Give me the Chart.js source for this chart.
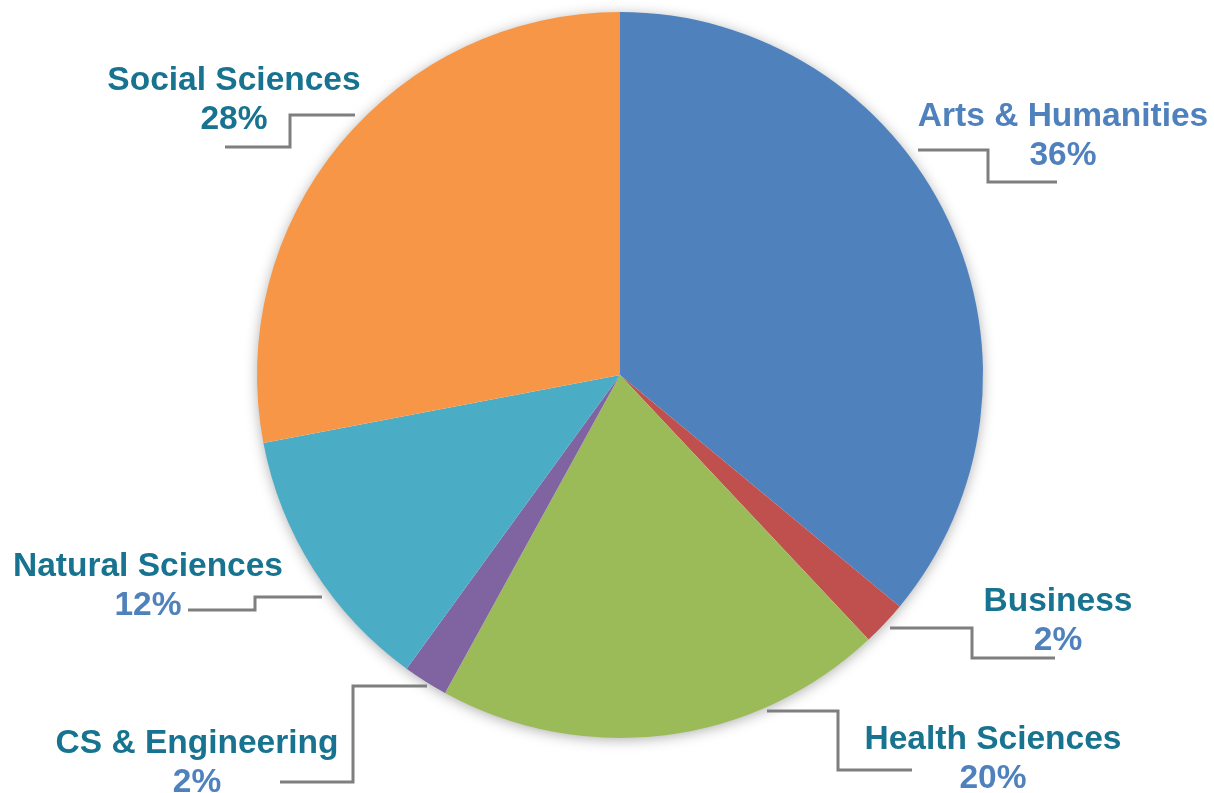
<!DOCTYPE html>
<html>
<head>
<meta charset="utf-8">
<script src="https://cdn.jsdelivr.net/npm/chart.js@4"></script>
<style>
  html, body { margin: 0; padding: 0; background: #ffffff; }
  #wrap { width: 1214px; height: 793px; position: relative; }
</style>
</head>
<body>
<div id="wrap"><canvas id="c" width="1214" height="793"></canvas></div>
<script>
// ---- data ----
const categories = ["Arts & Humanities", "Business", "Health Sciences", "CS & Engineering", "Natural Sciences", "Social Sciences"];
const shares = [36, 2, 20, 2, 12, 28];
const sliceColors = ["#4F81BD", "#C0504D", "#9BBB59", "#8064A2", "#4BACC6", "#F79646"];

// ---- label styling / placement (offsets from pie centre, px) ----
const nameColors = ["#4F81BD", "#17738F", "#17738F", "#17738F", "#17738F", "#17738F"];
const pctColors  = ["#4F81BD", "#4F81BD", "#4F81BD", "#4F81BD", "#4F81BD", "#17738F"];
const labelOffsets = [
  { tx: 443, ty: -258, line: [[298,-225],[368,-225],[368,-193],[437,-193]] },
  { tx: 438, ty: 227,  line: [[270,253],[352,253],[352,283],[435,283]] },
  { tx: 373, ty: 365,  line: [[147,336],[218,336],[218,395],[292,395]] },
  { tx: -423, ty: 369, line: [[-193,311],[-267,311],[-267,407],[-340,407]] },
  { tx: -472, ty: 192, line: [[-298,222],[-365,222],[-365,235],[-432,235]] },
  { tx: -386, ty: -294, line: [[-265,-260],[-330,-260],[-330,-228],[-395,-228]] }
];

const labelPlugin = {
  id: 'labels',
  beforeDatasetsDraw(chart) {
    const arc = chart.getDatasetMeta(0).data[0];
    const ctx = chart.ctx;
    ctx.save();
    ctx.shadowColor = 'rgba(0,0,0,0.35)';
    ctx.shadowBlur = 14;
    ctx.shadowOffsetY = 2;
    ctx.fillStyle = '#ffffff';
    ctx.beginPath();
    ctx.arc(arc.x, arc.y, arc.outerRadius - 1, 0, Math.PI * 2);
    ctx.fill();
    ctx.restore();
  },
  afterDraw(chart) {
    const meta = chart.getDatasetMeta(0);
    const ctx = chart.ctx;
    const cx = meta.data[0].x, cy = meta.data[0].y;
    ctx.save();
    categories.forEach((name, i) => {
      const o = labelOffsets[i];
      ctx.strokeStyle = '#7F7F7F';
      ctx.lineWidth = 3;
      ctx.lineJoin = 'miter';
      ctx.beginPath();
      o.line.forEach((p, k) => {
        if (k === 0) ctx.moveTo(cx + p[0], cy + p[1]);
        else ctx.lineTo(cx + p[0], cy + p[1]);
      });
      ctx.stroke();
      ctx.font = 'bold 33.5px "Liberation Sans", Arial, sans-serif';
      ctx.textAlign = 'center';
      ctx.textBaseline = 'middle';
      ctx.fillStyle = nameColors[i];
      ctx.fillText(name, cx + o.tx, cy + o.ty);
      ctx.fillStyle = pctColors[i];
      ctx.fillText(shares[i] + '%', cx + o.tx, cy + o.ty + 39);
    });
    ctx.restore();
  }
};

new Chart(document.getElementById('c'), {
  type: 'pie',
  data: {
    labels: categories,
    datasets: [{
      data: shares,
      backgroundColor: sliceColors,
      borderWidth: 0,
      hoverOffset: 0
    }]
  },
  options: {
    responsive: false,
    animation: false,
    layout: { padding: { top: 12, bottom: 55, left: 200, right: 174 } },
    plugins: {
      legend: { display: false },
      tooltip: { enabled: false }
    }
  },
  plugins: [labelPlugin]
});
</script>
</body>
</html>
